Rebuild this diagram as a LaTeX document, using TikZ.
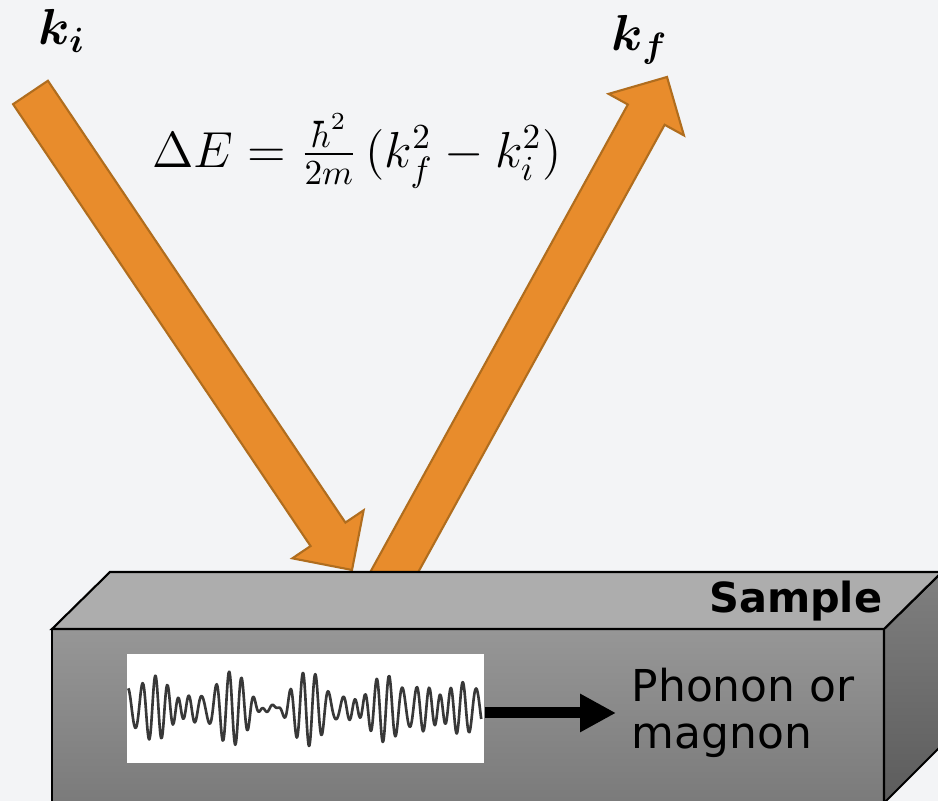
\documentclass[tikz,border=0pt]{standalone}
\usepackage{amsmath,bm}
\usepackage{fontspec}
\setmainfont{DejaVu Sans}
\usetikzlibrary{arrows.meta,calc,positioning}
\definecolor{bgpage}{HTML}{F3F4F6}
\definecolor{beamfill}{HTML}{E88C2C}
\definecolor{beamedge}{HTML}{B06D1E}
\tikzset{
  every picture/.style={>=Latex},
  beam/.style={fill=beamfill, draw=beamedge, line width=0.6pt},
  face/.style={draw=black, line width=0.6pt},
  wavebox/.style={fill=white, inner sep=0pt, minimum width=3.57cm, minimum height=1.09cm},
  signal/.style={draw=black!78, line width=0.75pt, line join=round},
  push/.style={-{Triangle[length=0.36cm,width=0.36cm]}, line width=0.11cm},
  modelabel/.style={align=left, inner sep=0.15cm, font=\fontsize{12.5}{13.4}\selectfont},
}
\newcommand{\beam}[2]{% broad orange arrow from #1 to #2
  \coordinate (hb) at ($(#2)!0.43cm!(#1)$);
  \draw[beam] ($(#1)!0.21cm!90:(#2)$) -- ($(hb)!0.21cm!90:(#2)$)
    -- ($(hb)!0.43cm!90:(#2)$) -- (#2) -- ($(hb)!0.43cm!-90:(#2)$)
    -- ($(hb)!0.21cm!-90:(#2)$) -- ($(#1)!0.21cm!-90:(#2)$) -- cycle;
}

\begin{document}
\begin{tikzpicture}
  \useasboundingbox[fill=bgpage] (0,0) rectangle (9.38,8.01);
  % beams
  \coordinate (src) at (0.305,7.085);
  \coordinate (hit) at (3.52,2.31);
  \coordinate (exit) at (3.80,2.03);
  \coordinate (out) at (6.67,7.24);
  \beam{src}{hit}
  \beam{exit}{out}
  \node (ki) at (0.62,7.70) {\Large $\bm{k_i}$};
  \node (kf) at (6.40,7.61) {\Large $\bm{k_f}$};
  \node (dE) at (3.57,6.50) {\Large $\Delta E = \frac{\hbar^2}{2m}\,(k_f^2 - k_i^2)$};
  % sample block
  \shade[face, top color=black!41, bottom color=black!52] (0.52,-0.02) rectangle (8.84,1.72);
  \shade[face, top color=black!50, bottom color=black!64] (8.84,1.72) -- (9.42,2.29) -- (9.42,0.56) -- (8.84,-0.02) -- cycle;
  \fill[face, fill=black!32] (0.52,1.72) -- (1.10,2.29) -- (9.42,2.29) -- (8.84,1.72) -- cycle;
  \node[anchor=base east, inner sep=0pt, font=\bfseries\fontsize{11.8}{13}\selectfont] (tag) at (8.83,1.88) {Sample};
  % excitation
  \node[wavebox] (wave) at (3.055,0.925) {};
  \begin{scope}[shift={(wave.west)}]
    \draw[signal] plot[domain=0.02:3.55, samples=420, smooth]
      (\x, {0.17*sin(2900*\x)+0.12*sin(2480*\x+60)+0.09*sin(3420*\x+150)});
  \end{scope}
  \node[modelabel, anchor=west] (modes) at (6.16,0.88) {Phonon or\\magnon};
  \draw[push] (wave.east |- modes.west) -- (modes.west);
\end{tikzpicture}
\end{document}
